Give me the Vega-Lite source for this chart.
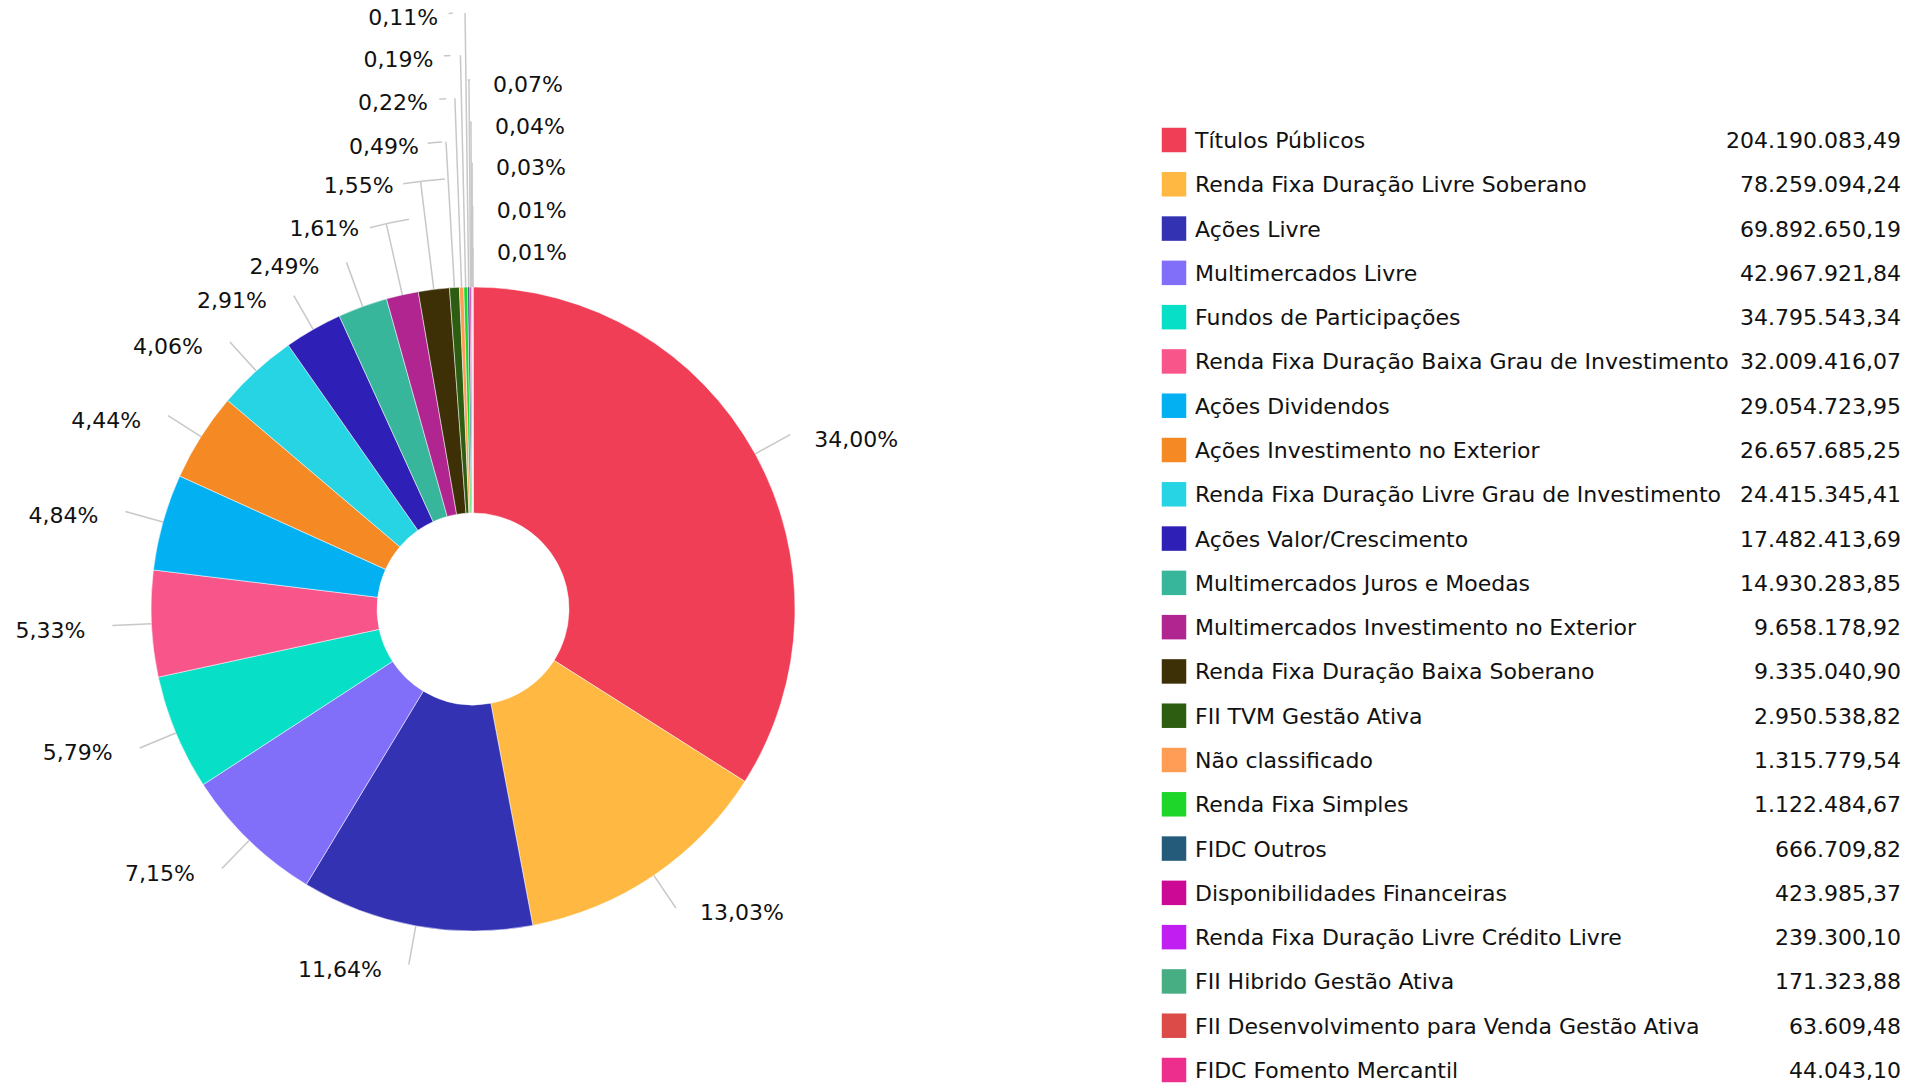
{
  "$schema": "https://vega.github.io/schema/vega-lite/v6.json",
  "background": "#ffffff",
  "padding": {"top": 7, "left": 0, "right": 0, "bottom": 0},
  "data": {
    "values": [
      {"order": 1, "name": "Títulos Públicos", "value": 204190083.49, "share": 0.3400},
      {"order": 2, "name": "Renda Fixa Duração Livre Soberano", "value": 78259094.24, "share": 0.1303},
      {"order": 3, "name": "Ações Livre", "value": 69892650.19, "share": 0.1164},
      {"order": 4, "name": "Multimercados Livre", "value": 42967921.84, "share": 0.0715},
      {"order": 5, "name": "Fundos de Participações", "value": 34795543.34, "share": 0.0579},
      {"order": 6, "name": "Renda Fixa Duração Baixa Grau de Investimento", "value": 32009416.07, "share": 0.0533},
      {"order": 7, "name": "Ações Dividendos", "value": 29054723.95, "share": 0.0484},
      {"order": 8, "name": "Ações Investimento no Exterior", "value": 26657685.25, "share": 0.0444},
      {"order": 9, "name": "Renda Fixa Duração Livre Grau de Investimento", "value": 24415345.41, "share": 0.0406},
      {"order": 10, "name": "Ações Valor/Crescimento", "value": 17482413.69, "share": 0.0291},
      {"order": 11, "name": "Multimercados Juros e Moedas", "value": 14930283.85, "share": 0.0249},
      {"order": 12, "name": "Multimercados Investimento no Exterior", "value": 9658178.92, "share": 0.0161},
      {"order": 13, "name": "Renda Fixa Duração Baixa Soberano", "value": 9335040.90, "share": 0.0155},
      {"order": 14, "name": "FII TVM Gestão Ativa", "value": 2950538.82, "share": 0.0049},
      {"order": 15, "name": "Não classificado", "value": 1315779.54, "share": 0.0022},
      {"order": 16, "name": "Renda Fixa Simples", "value": 1122484.67, "share": 0.0019},
      {"order": 17, "name": "FIDC Outros", "value": 666709.82, "share": 0.0011},
      {"order": 18, "name": "Disponibilidades Financeiras", "value": 423985.37, "share": 0.0007},
      {"order": 19, "name": "Renda Fixa Duração Livre Crédito Livre", "value": 239300.10, "share": 0.0004},
      {"order": 20, "name": "FII Hibrido Gestão Ativa", "value": 171323.88, "share": 0.0003},
      {"order": 21, "name": "FII Desenvolvimento para Venda Gestão Ativa", "value": 63609.48, "share": 0.0001},
      {"order": 22, "name": "FIDC Fomento Mercantil", "value": 44043.10, "share": 0.0001}
    ]
  },
  "spacing": 215,
  "hconcat": [
    {
      "width": 946,
      "height": 938,
      "layer": [
        {
          "mark": {"type": "arc", "innerRadius": 96, "outerRadius": 322, "stroke": "#ffffff", "strokeWidth": 0.5},
          "encoding": {
            "theta": {"field": "value", "type": "quantitative", "stack": true},
            "order": {"field": "order", "type": "quantitative"},
            "color": {
              "field": "name", "type": "nominal", "legend": null,
              "scale": {
                "domain": ["Títulos Públicos", "Renda Fixa Duração Livre Soberano", "Ações Livre", "Multimercados Livre", "Fundos de Participações", "Renda Fixa Duração Baixa Grau de Investimento", "Ações Dividendos", "Ações Investimento no Exterior", "Renda Fixa Duração Livre Grau de Investimento", "Ações Valor/Crescimento", "Multimercados Juros e Moedas", "Multimercados Investimento no Exterior", "Renda Fixa Duração Baixa Soberano", "FII TVM Gestão Ativa", "Não classificado", "Renda Fixa Simples", "FIDC Outros", "Disponibilidades Financeiras", "Renda Fixa Duração Livre Crédito Livre", "FII Hibrido Gestão Ativa", "FII Desenvolvimento para Venda Gestão Ativa", "FIDC Fomento Mercantil"],
                "range": ["#ef3e55", "#ffb942", "#3332b3", "#826ff9", "#07e0c7", "#f8558b", "#03b1f3", "#f58a25", "#26d4e3", "#2e1fb6", "#38b69b", "#b02590", "#3d2f06", "#2d5d10", "#ff9c55", "#1ed52a", "#255b7a", "#cc0995", "#c11ef2", "#47ae84", "#dc4b47", "#ee2e8d"]
              }
            }
          }
        },
        {
          "mark": {"type": "arc", "padAngle": 3, "fillOpacity": 0, "stroke": "#c8c8c8", "strokeWidth": 1.5},
          "encoding": {
            "theta": {"field": "value", "type": "quantitative", "stack": true},
            "order": {"field": "order", "type": "quantitative"},
            "radius": {"field": "value", "type": "quantitative", "scale": {"type": "linear", "zero": false, "nice": false, "domain": [44043.1, 63609.48, 171323.88, 239300.1, 423985.37, 666709.82, 1122484.67, 1315779.54, 2950538.82, 9335040.9, 9658178.92, 14930283.85, 17482413.69, 204190083.49], "range": [361, 403, 446, 487, 529, 596, 554, 511, 468, 431, 395, 369, 361, 362]}},
            "radius2": {"value": 322}
          }
        },
        {
          "mark": {"type": "arc", "thetaOffset": -0.024, "theta2Offset": -0.006, "fillOpacity": 0, "stroke": "#c8c8c8", "strokeWidth": 1.5},
          "encoding": {
            "theta": {"field": "value", "type": "quantitative", "stack": true},
            "order": {"field": "order", "type": "quantitative"},
            "radius": {"field": "value", "type": "quantitative", "scale": {"type": "linear", "zero": false, "nice": false, "domain": [44043.1, 63609.48, 171323.88, 239300.1, 423985.37, 666709.82, 1122484.67, 1315779.54, 2950538.82, 9335040.9, 9658178.92, 14930283.85, 17482413.69, 204190083.49], "range": [361, 403, 446, 487, 529, 596, 554, 511, 468, 431, 395, 369, 361, 362]}},
            "radius2": {"field": "value"},
            "strokeOpacity": {"condition": {"test": "datum.order >= 14 && datum.order <= 17", "value": 1}, "value": 0}
          }
        },
        {
          "mark": {"type": "arc", "thetaOffset": 0, "theta2Offset": 0.034, "fillOpacity": 0, "stroke": "#c8c8c8", "strokeWidth": 1.5},
          "encoding": {
            "theta": {"field": "value", "type": "quantitative", "stack": true},
            "order": {"field": "order", "type": "quantitative"},
            "radius": {"field": "value", "type": "quantitative", "scale": {"type": "linear", "zero": false, "nice": false, "domain": [44043.1, 63609.48, 171323.88, 239300.1, 423985.37, 666709.82, 1122484.67, 1315779.54, 2950538.82, 9335040.9, 9658178.92, 14930283.85, 17482413.69, 204190083.49], "range": [361, 403, 446, 487, 529, 596, 554, 511, 468, 431, 395, 369, 361, 362]}},
            "radius2": {"field": "value"},
            "strokeOpacity": {"condition": {"test": "datum.order >= 18", "value": 1}, "value": 0}
          }
        },
        {
          "mark": {"type": "arc", "thetaOffset": 0.008, "theta2Offset": -0.05, "fillOpacity": 0, "stroke": "#c8c8c8", "strokeWidth": 1.5},
          "encoding": {
            "theta": {"field": "value", "type": "quantitative", "stack": true},
            "order": {"field": "order", "type": "quantitative"},
            "radius": {"field": "value", "type": "quantitative", "scale": {"type": "linear", "zero": false, "nice": false, "domain": [44043.1, 63609.48, 171323.88, 239300.1, 423985.37, 666709.82, 1122484.67, 1315779.54, 2950538.82, 9335040.9, 9658178.92, 14930283.85, 17482413.69, 204190083.49], "range": [361, 403, 446, 487, 529, 596, 554, 511, 468, 431, 395, 369, 361, 362]}},
            "radius2": {"field": "value"},
            "strokeOpacity": {"condition": {"test": "datum.order == 12 || datum.order == 13", "value": 1}, "value": 0}
          }
        },
        {
          "mark": {"type": "text", "align": "right", "baseline": "middle", "dx": -27, "dy": 5, "fontSize": 22, "font": "DejaVu Sans", "color": "#111111"},
          "encoding": {
            "theta": {"field": "value", "type": "quantitative", "stack": true},
            "order": {"field": "order", "type": "quantitative"},
            "radius": {"field": "value", "type": "quantitative", "scale": {"type": "linear", "zero": false, "nice": false, "domain": [44043.1, 63609.48, 171323.88, 239300.1, 423985.37, 666709.82, 1122484.67, 1315779.54, 2950538.82, 9335040.9, 9658178.92, 14930283.85, 17482413.69, 204190083.49], "range": [361, 403, 446, 487, 529, 596, 554, 511, 468, 431, 395, 369, 361, 362]}},
            "text": {"condition": {"test": "datum.order >= 3 && datum.order <= 17", "field": "share", "type": "quantitative", "format": ".2%"}, "value": ""}
          }
        },
        {
          "mark": {"type": "text", "align": "left", "baseline": "middle", "dx": 24, "dy": 5, "fontSize": 22, "font": "DejaVu Sans", "color": "#111111"},
          "encoding": {
            "theta": {"field": "value", "type": "quantitative", "stack": true},
            "order": {"field": "order", "type": "quantitative"},
            "radius": {"field": "value", "type": "quantitative", "scale": {"type": "linear", "zero": false, "nice": false, "domain": [44043.1, 63609.48, 171323.88, 239300.1, 423985.37, 666709.82, 1122484.67, 1315779.54, 2950538.82, 9335040.9, 9658178.92, 14930283.85, 17482413.69, 204190083.49], "range": [361, 403, 446, 487, 529, 596, 554, 511, 468, 431, 395, 369, 361, 362]}},
            "text": {"condition": {"test": "datum.order <= 2 || datum.order >= 18", "field": "share", "type": "quantitative", "format": ".2%"}, "value": ""}
          }
        }
      ]
    },
    {
      "width": 739,
      "height": 930,
      "encoding": {
        "y": {
          "field": "name", "type": "nominal", "axis": null,
          "sort": ["Títulos Públicos", "Renda Fixa Duração Livre Soberano", "Ações Livre", "Multimercados Livre", "Fundos de Participações", "Renda Fixa Duração Baixa Grau de Investimento", "Ações Dividendos", "Ações Investimento no Exterior", "Renda Fixa Duração Livre Grau de Investimento", "Ações Valor/Crescimento", "Multimercados Juros e Moedas", "Multimercados Investimento no Exterior", "Renda Fixa Duração Baixa Soberano", "FII TVM Gestão Ativa", "Não classificado", "Renda Fixa Simples", "FIDC Outros", "Disponibilidades Financeiras", "Renda Fixa Duração Livre Crédito Livre", "FII Hibrido Gestão Ativa", "FII Desenvolvimento para Venda Gestão Ativa", "FIDC Fomento Mercantil"],
          "scale": {"type": "point", "padding": 0}
        }
      },
      "layer": [
        {
          "mark": {"type": "point", "shape": "square", "filled": true, "size": 600, "opacity": 1, "strokeWidth": 0},
          "encoding": {
            "x": {"value": 12},
            "color": {
              "field": "name", "type": "nominal", "legend": null,
              "scale": {
                "domain": ["Títulos Públicos", "Renda Fixa Duração Livre Soberano", "Ações Livre", "Multimercados Livre", "Fundos de Participações", "Renda Fixa Duração Baixa Grau de Investimento", "Ações Dividendos", "Ações Investimento no Exterior", "Renda Fixa Duração Livre Grau de Investimento", "Ações Valor/Crescimento", "Multimercados Juros e Moedas", "Multimercados Investimento no Exterior", "Renda Fixa Duração Baixa Soberano", "FII TVM Gestão Ativa", "Não classificado", "Renda Fixa Simples", "FIDC Outros", "Disponibilidades Financeiras", "Renda Fixa Duração Livre Crédito Livre", "FII Hibrido Gestão Ativa", "FII Desenvolvimento para Venda Gestão Ativa", "FIDC Fomento Mercantil"],
                "range": ["#ef3e55", "#ffb942", "#3332b3", "#826ff9", "#07e0c7", "#f8558b", "#03b1f3", "#f58a25", "#26d4e3", "#2e1fb6", "#38b69b", "#b02590", "#3d2f06", "#2d5d10", "#ff9c55", "#1ed52a", "#255b7a", "#cc0995", "#c11ef2", "#47ae84", "#dc4b47", "#ee2e8d"]
              }
            }
          }
        },
        {
          "mark": {"type": "text", "align": "left", "baseline": "middle", "dy": 1, "fontSize": 22, "font": "DejaVu Sans", "color": "#111111"},
          "encoding": {"x": {"value": 33}, "text": {"field": "name", "type": "nominal"}}
        },
        {
          "mark": {"type": "text", "align": "right", "baseline": "middle", "dy": 1, "fontSize": 22, "font": "DejaVu Sans", "color": "#111111"},
          "encoding": {"x": {"value": "width"}, "text": {"field": "value", "type": "quantitative", "format": ",.2f"}}
        }
      ]
    }
  ],
  "config": {
    "view": {"stroke": null},
    "font": "DejaVu Sans",
    "locale": {"number": {"decimal": ",", "thousands": ".", "grouping": [3], "currency": ["R$", ""]}}
  }
}
